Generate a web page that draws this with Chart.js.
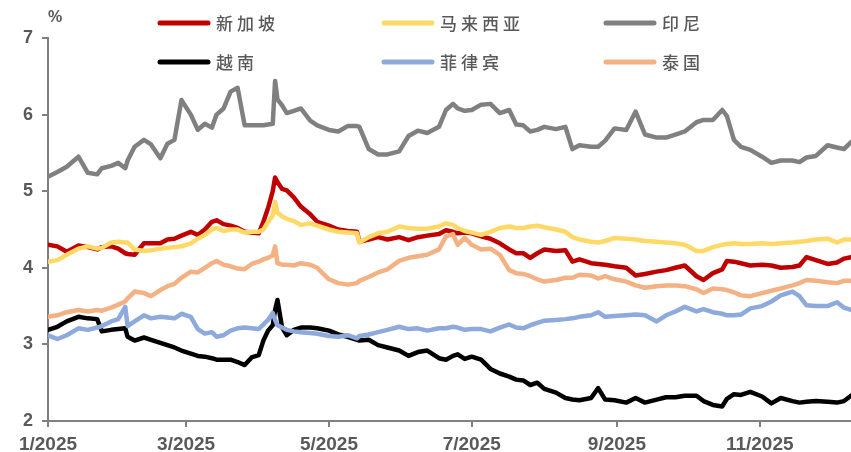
<!DOCTYPE html>
<html>
<head>
<meta charset="utf-8">
<script src="https://cdn.jsdelivr.net/npm/chart.js@4.4.1/dist/chart.umd.min.js"></script>
<style>
  html, body { margin: 0; padding: 0; background: #ffffff; }
  #wrap { width: 851px; height: 452px; position: relative; }
</style>
</head>
<body>
<div id="wrap"><canvas id="c" width="851" height="452"></canvas></div>
<script>
// ---- Data (day index from 1 Jan 2025) ----
const tickDays = [0, 59, 120, 181, 243, 304];
const tickLabels = ['1/2025', '3/2025', '5/2025', '7/2025', '9/2025', '11/2025'];
const seriesNames = ['新加坡', '马来西亚', '印尼', '越南', '菲律宾', '泰国'];

const days = [0,4,8,13,17,21,23,27,30,33,34,37,41,44,48,51,54,57,61,64,67,70,72,75,78,81,84,87,90,92,94,96,97,98,100,102,105,108,112,115,120,124,128,132,133,137,141,145,150,154,158,162,167,170,173,175,178,181,185,189,193,197,200,203,206,209,212,217,221,224,227,232,235,238,242,247,251,255,260,264,268,272,277,280,284,288,290,293,296,300,305,309,313,318,321,324,328,333,337,340,343];

const singapore = [4.30,4.28,4.21,4.29,4.27,4.24,4.27,4.28,4.25,4.19,4.18,4.17,4.32,4.32,4.32,4.37,4.38,4.42,4.47,4.43,4.50,4.60,4.62,4.57,4.55,4.52,4.47,4.46,4.45,4.60,4.78,5.00,5.18,5.12,5.03,5.01,4.92,4.80,4.70,4.60,4.55,4.50,4.48,4.47,4.34,4.37,4.40,4.37,4.40,4.36,4.40,4.42,4.44,4.49,4.47,4.45,4.46,4.45,4.41,4.38,4.32,4.24,4.19,4.19,4.13,4.19,4.24,4.22,4.23,4.08,4.11,4.06,4.05,4.04,4.02,4.00,3.90,3.92,3.95,3.97,4.00,4.03,3.89,3.84,3.93,3.98,4.09,4.08,4.06,4.03,4.04,4.03,4.00,4.01,4.03,4.14,4.10,4.05,4.07,4.12,4.14];

const malaysia = [4.08,4.10,4.17,4.25,4.28,4.25,4.26,4.33,4.34,4.33,4.33,4.24,4.22,4.23,4.25,4.26,4.27,4.28,4.32,4.38,4.43,4.50,4.52,4.48,4.50,4.50,4.46,4.47,4.47,4.50,4.60,4.68,4.86,4.72,4.67,4.64,4.61,4.56,4.58,4.55,4.50,4.47,4.46,4.45,4.33,4.40,4.45,4.47,4.54,4.52,4.51,4.51,4.54,4.58,4.56,4.52,4.48,4.46,4.43,4.47,4.52,4.54,4.52,4.52,4.54,4.55,4.53,4.50,4.47,4.40,4.37,4.34,4.33,4.35,4.39,4.38,4.37,4.35,4.34,4.33,4.32,4.30,4.22,4.22,4.27,4.30,4.31,4.32,4.31,4.31,4.32,4.31,4.32,4.33,4.34,4.35,4.37,4.38,4.33,4.37,4.37];

const indonesia = [5.19,5.25,5.32,5.45,5.24,5.22,5.30,5.33,5.37,5.30,5.40,5.58,5.67,5.61,5.43,5.62,5.67,6.19,6.00,5.80,5.88,5.83,6.00,6.08,6.30,6.35,5.86,5.86,5.86,5.86,5.87,5.88,6.44,6.20,6.12,6.02,6.05,6.08,5.92,5.86,5.80,5.78,5.85,5.85,5.84,5.55,5.48,5.48,5.52,5.72,5.79,5.76,5.84,6.06,6.14,6.08,6.05,6.06,6.13,6.14,6.02,6.06,5.87,5.86,5.78,5.80,5.84,5.81,5.84,5.55,5.60,5.58,5.58,5.66,5.82,5.80,6.04,5.74,5.70,5.70,5.74,5.78,5.90,5.93,5.93,6.06,5.98,5.67,5.58,5.54,5.45,5.37,5.40,5.40,5.38,5.44,5.46,5.60,5.57,5.55,5.64];

const vietnam = [3.19,3.23,3.30,3.36,3.34,3.33,3.17,3.19,3.20,3.21,3.10,3.05,3.09,3.06,3.02,2.99,2.96,2.92,2.88,2.85,2.84,2.82,2.80,2.80,2.80,2.77,2.73,2.83,2.86,3.05,3.18,3.25,3.45,3.58,3.22,3.12,3.19,3.22,3.22,3.21,3.18,3.13,3.10,3.06,3.05,3.06,2.99,2.96,2.92,2.85,2.90,2.92,2.82,2.80,2.85,2.87,2.81,2.84,2.80,2.68,2.62,2.58,2.54,2.53,2.47,2.50,2.42,2.37,2.30,2.28,2.27,2.30,2.43,2.28,2.27,2.24,2.30,2.24,2.28,2.31,2.31,2.33,2.33,2.26,2.21,2.19,2.29,2.35,2.34,2.38,2.32,2.23,2.30,2.26,2.24,2.25,2.26,2.25,2.24,2.26,2.33];

const philippines = [3.12,3.07,3.12,3.21,3.19,3.22,3.24,3.30,3.33,3.49,3.24,3.30,3.38,3.34,3.36,3.35,3.34,3.40,3.36,3.20,3.14,3.16,3.10,3.12,3.18,3.21,3.22,3.21,3.20,3.26,3.32,3.41,3.32,3.25,3.22,3.19,3.17,3.16,3.15,3.14,3.11,3.10,3.12,3.08,3.11,3.13,3.16,3.19,3.23,3.20,3.21,3.18,3.21,3.21,3.23,3.22,3.19,3.20,3.20,3.17,3.22,3.26,3.22,3.21,3.25,3.28,3.31,3.32,3.33,3.34,3.36,3.38,3.42,3.36,3.37,3.38,3.39,3.38,3.30,3.38,3.43,3.49,3.43,3.46,3.42,3.40,3.38,3.38,3.39,3.47,3.50,3.56,3.64,3.69,3.63,3.51,3.50,3.50,3.55,3.48,3.45];

const thailand = [3.36,3.38,3.42,3.45,3.43,3.45,3.44,3.48,3.52,3.56,3.60,3.69,3.67,3.63,3.71,3.76,3.79,3.87,3.95,3.94,4.00,4.06,4.09,4.04,4.02,3.99,3.98,4.05,4.08,4.11,4.13,4.16,4.28,4.06,4.04,4.04,4.03,4.06,4.04,4.00,3.85,3.80,3.78,3.80,3.83,3.88,3.94,3.98,4.09,4.13,4.15,4.17,4.24,4.41,4.44,4.30,4.39,4.30,4.24,4.25,4.17,3.97,3.93,3.92,3.89,3.85,3.82,3.84,3.87,3.87,3.91,3.90,3.86,3.89,3.85,3.82,3.77,3.74,3.76,3.77,3.77,3.76,3.72,3.67,3.73,3.72,3.71,3.68,3.64,3.63,3.67,3.70,3.73,3.77,3.80,3.84,3.83,3.81,3.80,3.83,3.83];

// ---- Styling ----
const seriesValues = [singapore, malaysia, indonesia, vietnam, philippines, thailand];
const seriesColors = ['#C00000', '#FFD966', '#808080', '#000000', '#8EA9DB', '#F4B183'];
const textColor = '#595959';
const axisColor = '#808080';

const datasets = seriesNames.map((name, i) => ({
  label: name,
  data: days.map((d, k) => ({ x: d, y: seriesValues[i][k] })),
  borderColor: seriesColors[i],
  backgroundColor: seriesColors[i],
  borderWidth: 4.5,
  pointRadius: 0,
  tension: 0,
  order: seriesNames.length - i,
  borderCapStyle: 'round',
  borderJoinStyle: 'round'
}));

const legendPlugin = {
  id: 'customLegend',
  afterDraw(chart) {
    const ctx = chart.ctx;
    const colX = [160, 384, 606];
    const rowY = [23, 62];
    ctx.save();
    chart.data.datasets.forEach((ds, i) => {
      const x0 = colX[i % 3];
      const y = rowY[Math.floor(i / 3)];
      ctx.beginPath();
      ctx.strokeStyle = ds.borderColor;
      ctx.lineWidth = 5;
      ctx.lineCap = 'round';
      ctx.moveTo(x0, y);
      ctx.lineTo(x0 + 48, y);
      ctx.stroke();
      ctx.fillStyle = textColor;
      ctx.font = '500 17px "Noto Sans CJK SC"';
      if ('letterSpacing' in ctx) ctx.letterSpacing = '4px';
      ctx.textBaseline = 'middle';
      ctx.textAlign = 'left';
      ctx.fillText(ds.label, x0 + 56, y + 1);
    });
    if ('letterSpacing' in ctx) ctx.letterSpacing = '0px';
    ctx.font = 'bold 16px "Liberation Sans", Arial, sans-serif';
    ctx.textAlign = 'center';
    ctx.fillText('%', 55, 18);
    ctx.restore();
  }
};

new Chart(document.getElementById('c'), {
  type: 'line',
  data: { datasets },
  options: {
    responsive: false,
    animation: false,
    layout: { padding: { top: 38, right: 0, left: 0, bottom: 0 } },
    plugins: { legend: { display: false }, tooltip: { enabled: false } },
    scales: {
      x: {
        type: 'linear',
        min: 0,
        max: 343,
        afterBuildTicks: (axis) => { axis.ticks = tickDays.map(v => ({ value: v })); },
        afterFit: (axis) => { axis.height = 31; },
        ticks: {
          autoSkip: false,
          maxRotation: 0,
          padding: 6,
          color: textColor,
          font: { family: '"Liberation Sans", Arial, sans-serif', size: 19, weight: 'bold' },
          callback: (v) => { const i = tickDays.indexOf(v); return i >= 0 ? tickLabels[i] : ''; }
        },
        grid: { display: true, drawOnChartArea: false, drawTicks: true, tickLength: 6, color: axisColor, lineWidth: 2 },
        border: { display: true, color: axisColor, width: 2 }
      },
      y: {
        min: 2,
        max: 7,
        afterFit: (axis) => { axis.width = 48; },
        ticks: {
          stepSize: 1,
          padding: 9,
          color: textColor,
          font: { family: '"Liberation Sans", Arial, sans-serif', size: 18, weight: 'bold' }
        },
        grid: { display: true, drawOnChartArea: false, drawTicks: true, tickLength: 6, color: axisColor, lineWidth: 2 },
        border: { display: true, color: axisColor, width: 2 }
      }
    }
  },
  plugins: [legendPlugin]
});
</script>
</body>
</html>
